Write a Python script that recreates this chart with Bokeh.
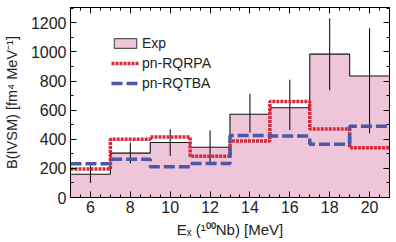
from bokeh.plotting import figure
from bokeh.models import (Legend, LegendItem, LinearAxis, ColumnDataSource,
                          SingleIntervalTicker)
from bokeh.embed import file_html
from bokeh.resources import INLINE

# Excitation-energy bins (MeV) of 100Nb
bin_edges = [5, 7, 9, 11, 13, 15, 17, 19, 21]
# Experimental B(IVSM) per bin [fm^4 MeV^-1] with lower/upper uncertainties
exp_values = [160, 305, 378, 345, 572, 616, 985, 835]
exp_err_minus = [60, 70, 92, 110, 127, 153, 249, 394]
exp_err_plus = [58, 72, 90, 116, 141, 193, 245, 327]
# Theory predictions
rqrpa_values = [195, 400, 415, 283, 388, 660, 470, 342]
rqtba_values = [232, 262, 212, 234, 426, 422, 366, 490]

FONT = "Liberation Sans"
PINK = "#efc5da"
RED = "#d42a3c"
BLUE = "#4a58a6"
NAN = float("nan")

lefts = bin_edges[:-1]
rights = bin_edges[1:]
centers = [(a + b) / 2 for a, b in zip(lefts, rights)]

p = figure(width=396, height=242, x_range=(5, 21), y_range=(0, 1305),
           output_backend="svg", toolbar_location=None,
           min_border_left=70, min_border_right=7, min_border_top=7,
           min_border_bottom=45)
p.grid.visible = False
p.outline_line_color = "black"
p.outline_line_width = 1
p.background_fill_color = "white"
bottom_ax = p.below[0]
left_ax = p.left[0]

# experimental histogram
exp_src = ColumnDataSource(dict(left=lefts, right=rights, top=exp_values,
                                bottom=[0] * len(exp_values)))
p.quad(left="left", right="right", top="top", bottom="bottom", source=exp_src,
       fill_color=PINK, line_color=PINK, line_width=1)
p.step(x=bin_edges, y=exp_values + [exp_values[-1]], mode="after",
       line_color="#1a1a1a", line_width=1.1)

# error bars
lo = [v - m for v, m in zip(exp_values, exp_err_minus)]
hi = [v + q for v, q in zip(exp_values, exp_err_plus)]
p.segment(x0=centers, y0=lo, x1=centers, y1=hi, line_color="black", line_width=1)

# theory curves
r_rpa = p.step(x=bin_edges, y=rqrpa_values + [rqrpa_values[-1]], mode="after",
               line_color=RED, line_width=3.5, line_dash="3 1")
r_tba = p.step(x=bin_edges, y=rqtba_values + [rqtba_values[-1]], mode="after",
               line_color=BLUE, line_width=3.5, line_dash="11 4")

# legend-only swatch (outlined box) for the experimental histogram
r_exp_key = p.quad(left=[NAN], right=[NAN], top=[NAN], bottom=[NAN],
                   fill_color=PINK, line_color="#555555", line_width=1.2)

legend = Legend(items=[LegendItem(label="Exp", renderers=[r_exp_key]),
                       LegendItem(label="pn-RQRPA", renderers=[r_rpa]),
                       LegendItem(label="pn-RQTBA", renderers=[r_tba])],
                location=(41, 106), orientation="vertical",
                glyph_width=28, glyph_height=12, label_height=12,
                spacing=4, padding=0, margin=0, label_standoff=3,
                border_line_color=None, background_fill_alpha=0,
                label_text_font=FONT, label_text_font_size="14px",
                label_text_color="#222222")
p.add_layout(legend, "center")

# axes
def style_axis(ax, show_labels):
    ax.major_tick_in = 6
    ax.major_tick_out = 0
    ax.minor_tick_in = 3
    ax.minor_tick_out = 0
    ax.axis_line_color = "black"
    ax.major_tick_line_color = "black"
    ax.minor_tick_line_color = "black"
    ax.major_label_text_font = FONT
    ax.major_label_text_font_size = "16px"
    if show_labels:
        ax.major_label_text_color = "#222222"
    else:
        ax.major_label_text_color = None
        ax.major_label_standoff = 0

bottom_ax.ticker = SingleIntervalTicker(interval=2, num_minor_ticks=4)
left_ax.ticker = SingleIntervalTicker(interval=200, num_minor_ticks=2)
style_axis(bottom_ax, True)
style_axis(left_ax, True)
bottom_ax.major_label_standoff = 3
left_ax.major_label_standoff = 4

top_ax = LinearAxis(ticker=SingleIntervalTicker(interval=2, num_minor_ticks=4))
right_ax = LinearAxis(ticker=SingleIntervalTicker(interval=200, num_minor_ticks=2))
style_axis(top_ax, False)
style_axis(right_ax, False)
p.add_layout(top_ax, "above")
p.add_layout(right_ax, "right")

# axis titles
bottom_ax.axis_label = "E\u2093 (\u00b9\u2070\u2070Nb) [MeV]"
left_ax.axis_label = "B(IVSM) [fm\u2074 MeV\u207b\u00b9]"
for ax in (bottom_ax, left_ax):
    ax.axis_label_text_font = FONT
    ax.axis_label_text_font_style = "normal"
    ax.axis_label_text_font_size = "15px"
    ax.axis_label_text_color = "#222222"
bottom_ax.axis_label_standoff = 5
left_ax.axis_label_standoff = 8
left_ax.axis_label_text_font_size = "14.5px"

open("out.html", "w").write(file_html(p, INLINE))
